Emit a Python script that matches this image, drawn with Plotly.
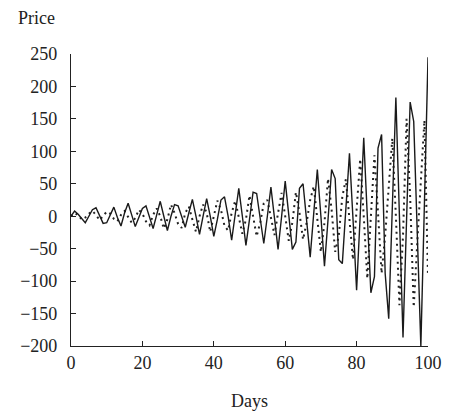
import plotly.graph_objects as go

days = list(range(0, 101))

actual = [0, 8, 3, -4, -10, 0, 10, 13, 0, -11,
          -10, 2, 14, -2, -15, 5, 20, 2, -16, -2,
          12, 16, -2, -19, 2, 23, 0, -22, 0, 18,
          16, 0, -17, 5, 26, 0, -28, 0, 27, 0,
          -31, -5, 25, 30, 0, -37, 0, 43, 0, -45,
          -5, 37, 35, -5, -42, 0, 45, -3, -51, 0,
          54, 2, -51, -40, 43, 50, -5, -63, 5, 72,
          0, -77, -5, 72, 58, -67, -73, 10, 97, -5,
          -114, 0, 121, 0, -118, -93, 105, 126, -88, -158,
          10, 183, 0, -187, -5, 176, 146, -30, -200, 20,
          245]

forecast = [0, 5, 2, -5, -2, 4, 8, 2, -6, 0,
            7, 4, -4, -8, 2, 8, 0, -10, -3, 10,
            4, -8, -14, 2, 12, 0, -19, -5, 18, 5,
            -12, -18, 5, 15, -5, -24, 0, 18, 5, -24,
            0, 24, 10, -15, -22, 5, 24, 0, -27, -5,
            32, 0, -31, -10, 20, 25, -5, -29, 5, 36,
            0, -38, -10, 37, 5, -36, -10, 25, 46, 0,
            -55, -10, 58, 10, -55, -30, 30, 57, 0, -67,
            10, 88, 0, -96, 0, 94, 5, -88, -30, 50,
            120, 0, -137, -30, 150, 30, -140, -40, 60, 148,
            -93]

x_ticks = [0, 20, 40, 60, 80, 100]
y_ticks = [-200, -150, -100, -50, 0, 50, 100, 150, 200, 250]

FONT = "Liberation Serif"

fig = go.Figure()
fig.add_trace(go.Scatter(x=days, y=forecast, mode="lines",
                         line=dict(color="#222222", width=2, dash="2px,4px"),
                         showlegend=False))
fig.add_trace(go.Scatter(x=days, y=actual, mode="lines",
                         line=dict(color="#1a1a1a", width=1.4),
                         showlegend=False))

axis_common = dict(showgrid=False, zeroline=False, showline=True,
                   linecolor="#222222", linewidth=1.2,
                   ticks="inside", ticklen=5, tickwidth=1.2, tickcolor="#222222",
                   tickfont=dict(family=FONT, size=18, color="#222222"))

fig.update_xaxes(range=[0, 100], tickvals=x_ticks, **axis_common)
fig.update_yaxes(range=[-200, 250], tickvals=y_ticks, ticklabelstandoff=9,
                 **axis_common)

fig.add_annotation(text="Price", xref="paper", yref="paper", x=-0.098, y=1.123,
                   xanchor="center", yanchor="middle", showarrow=False,
                   font=dict(family=FONT, size=18, color="#222222"))
fig.add_annotation(text="Days", xref="paper", yref="paper", x=0.5, y=-0.19,
                   xanchor="center", yanchor="middle", showarrow=False,
                   font=dict(family=FONT, size=18, color="#222222"))

# page body has an 8px margin, so the figure is 8px smaller than the window
fig.update_layout(width=446, height=409,
                  margin=dict(l=62, r=16, t=46, b=71),
                  plot_bgcolor="white", paper_bgcolor="white")

fig.write_html("out.html")
